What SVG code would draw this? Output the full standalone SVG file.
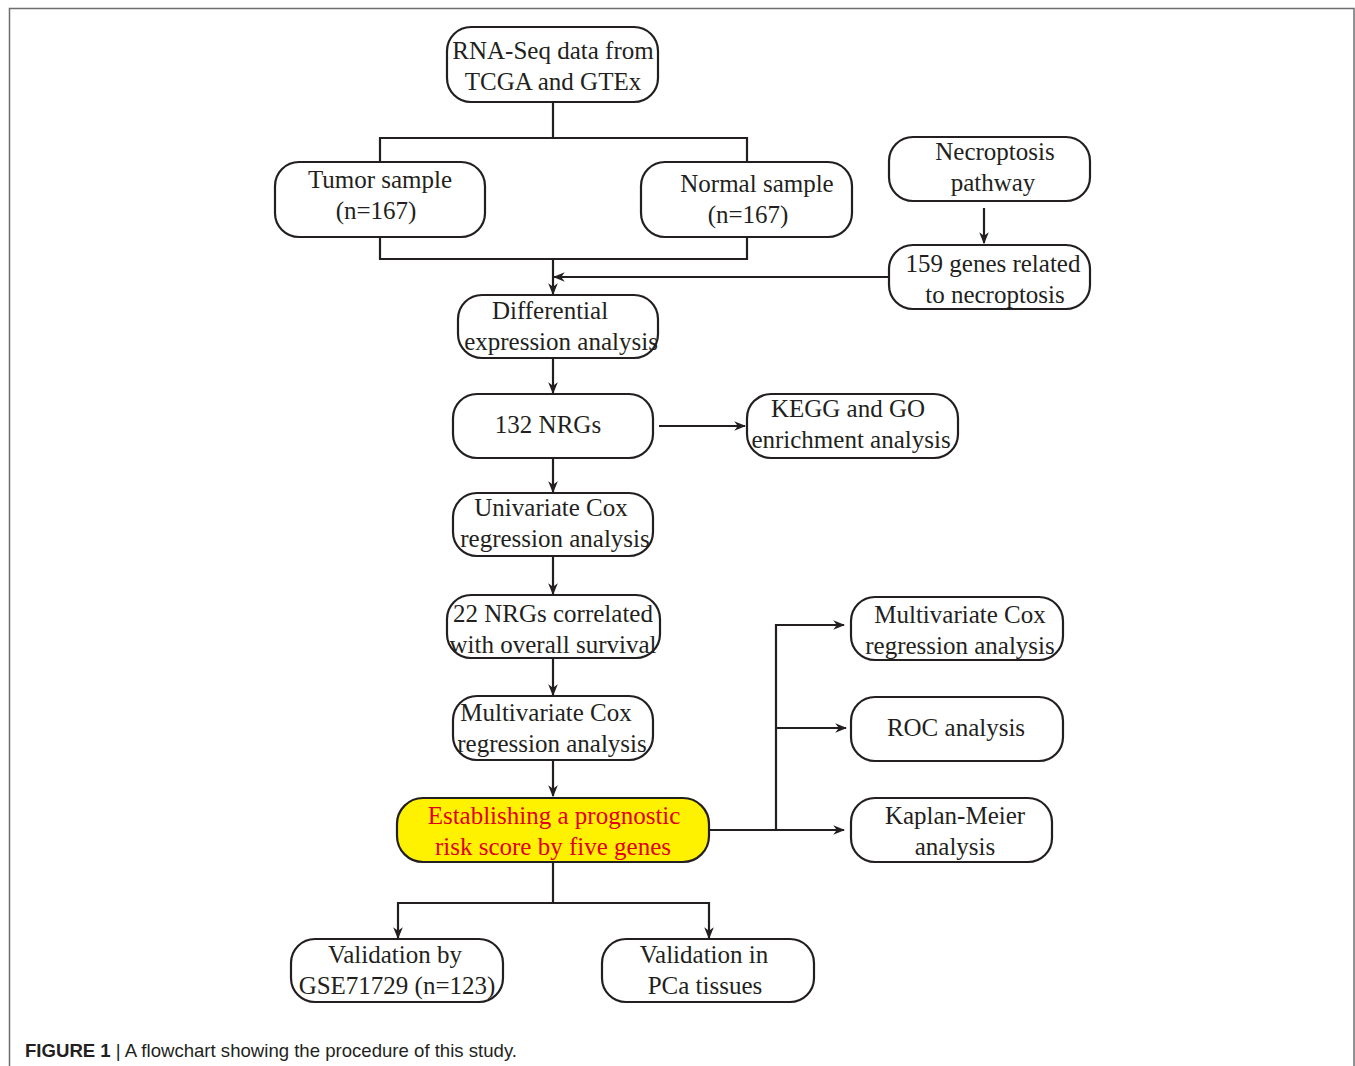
<svg xmlns="http://www.w3.org/2000/svg" width="1355" height="1066" viewBox="0 0 1355 1066">
<defs>
<style>
.box{fill:#fff;stroke:#231f20;stroke-width:2.2}
.hl{fill:#fff200;stroke:#231f20;stroke-width:2.2}
.t{font-family:"Liberation Serif",serif;font-size:25px;fill:#231f20;text-anchor:middle}
.r{fill:#e0001b}
.ln{fill:none;stroke:#231f20;stroke-width:2.2}
.frame{fill:none;stroke:#6d6e71;stroke-width:1.5}
.cap{font-family:"Liberation Sans",Arial,sans-serif;font-size:19px;fill:#231f20}
</style>
<marker id="ah" viewBox="0 0 10 10" refX="9" refY="5" markerWidth="12" markerHeight="12" markerUnits="userSpaceOnUse" orient="auto">
<path d="M0,1 L10,5 L0,9 L3,5 Z" fill="#231f20"/>
</marker>
</defs>
<rect width="1355" height="1066" fill="#fff"/>
<path class="frame" d="M9.5,1066 V8.5 H1354 V1066"/>

<g id="connectors">
<path class="ln" d="M553,102 V138 M380,162 V138 H747 V162"/>
<path class="ln" d="M380,237 V259 H747 V237"/>
<path class="ln" d="M553,259 V294" marker-end="url(#ah)"/>
<path class="ln" d="M889,277 H554" marker-end="url(#ah)"/>
<path class="ln" d="M984,208 V243" marker-end="url(#ah)"/>
<path class="ln" d="M553,358 V393" marker-end="url(#ah)"/>
<path class="ln" d="M659,426 H745" marker-end="url(#ah)"/>
<path class="ln" d="M553,458 V492" marker-end="url(#ah)"/>
<path class="ln" d="M553,556 V594" marker-end="url(#ah)"/>
<path class="ln" d="M553,658 V695" marker-end="url(#ah)"/>
<path class="ln" d="M553,760 V796" marker-end="url(#ah)"/>
<path class="ln" d="M709,830 H844" marker-end="url(#ah)"/>
<path class="ln" d="M776,830 V625 H844" marker-end="url(#ah)"/>
<path class="ln" d="M776,728 H846" marker-end="url(#ah)"/>
<path class="ln" d="M553,862 V903"/>
<path class="ln" d="M553,903 H398 V938" marker-end="url(#ah)"/>
<path class="ln" d="M553,903 H709 V938" marker-end="url(#ah)"/>
</g>

<g id="n-rnaseq"><rect class="box" x="447" y="27" width="211" height="75" rx="24"/>
<text class="t" x="553" y="59">RNA-Seq data from</text><text class="t" x="553" y="90">TCGA and GTEx</text></g>

<g id="n-tumor"><rect class="box" x="275" y="162" width="210" height="75" rx="24"/>
<text class="t" x="380" y="188">Tumor sample</text><text class="t" x="376" y="219">(n=167)</text></g>

<g id="n-normal"><rect class="box" x="641" y="162" width="211" height="75" rx="24"/>
<text class="t" x="757" y="192">Normal sample</text><text class="t" x="748" y="223">(n=167)</text></g>

<g id="n-necro"><rect class="box" x="889" y="137" width="201" height="64" rx="24"/>
<text class="t" x="995" y="160">Necroptosis</text><text class="t" x="993" y="191">pathway</text></g>

<g id="n-159"><rect class="box" x="889" y="245" width="201" height="64" rx="24"/>
<text class="t" x="993" y="272">159 genes related</text><text class="t" x="995" y="303">to necroptosis</text></g>

<g id="n-diff"><rect class="box" x="458" y="295" width="200" height="63" rx="24"/>
<text class="t" x="550" y="319">Differential</text><text class="t" x="561" y="350">expression analysis</text></g>

<g id="n-132"><rect class="box" x="453" y="394" width="200" height="64" rx="24"/>
<text class="t" x="548" y="433">132 NRGs</text></g>

<g id="n-kegg"><rect class="box" x="747" y="394" width="211" height="64" rx="24"/>
<text class="t" x="848" y="417">KEGG  and GO</text><text class="t" x="851" y="448">enrichment analysis</text></g>

<g id="n-uni"><rect class="box" x="453" y="493" width="200" height="63" rx="24"/>
<text class="t" x="551" y="516">Univariate Cox</text><text class="t" x="555" y="547">regression analysis</text></g>

<g id="n-22"><rect class="box" x="447" y="595" width="213" height="63" rx="24"/>
<text class="t" x="553" y="622">22 NRGs correlated</text><text class="t" x="553" y="653">with overall survival</text></g>

<g id="n-multi"><rect class="box" x="453" y="696" width="200" height="64" rx="24"/>
<text class="t" x="546" y="721">Multivariate Cox</text><text class="t" x="552" y="752">regression analysis</text></g>

<g id="n-risk"><rect class="hl" x="397" y="798" width="312" height="64" rx="26"/>
<text class="t r" x="554" y="824">Establishing a prognostic</text><text class="t r" x="553" y="855">risk score by five genes</text></g>

<g id="n-multi2"><rect class="box" x="851" y="597" width="212" height="63" rx="24"/>
<text class="t" x="960" y="623">Multivariate Cox</text><text class="t" x="960" y="654">regression analysis</text></g>

<g id="n-roc"><rect class="box" x="851" y="697" width="212" height="64" rx="24"/>
<text class="t" x="956" y="736">ROC analysis</text></g>

<g id="n-km"><rect class="box" x="851" y="798" width="201" height="64" rx="24"/>
<text class="t" x="955" y="824">Kaplan-Meier</text><text class="t" x="955" y="855">analysis</text></g>

<g id="n-gse"><rect class="box" x="291" y="939" width="212" height="63" rx="24"/>
<text class="t" x="395" y="963">Validation by</text><text class="t" x="397" y="994">GSE71729 (n=123)</text></g>

<g id="n-pca"><rect class="box" x="602" y="939" width="212" height="63" rx="24"/>
<text class="t" x="704" y="963">Validation in</text><text class="t" x="705" y="994">PCa tissues</text></g>

<text class="cap" x="25" y="1057" textLength="492" lengthAdjust="spacingAndGlyphs"><tspan font-weight="bold">FIGURE 1</tspan> | A flowchart showing the procedure of this study.</text>
</svg>
